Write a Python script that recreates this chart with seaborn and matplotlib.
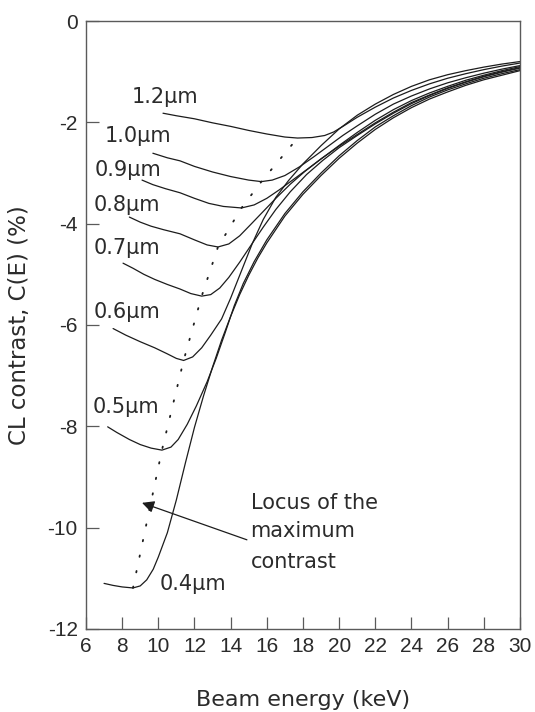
import matplotlib
matplotlib.use("Agg")
import matplotlib.pyplot as plt
import numpy as np
import pandas as pd
import seaborn as sns

# Beam energy (keV) / CL contrast (%) for each defect depth
E_04 = [7.0, 7.5, 8.0, 8.6, 9.0, 9.36, 9.72, 10.0, 10.5, 11.0, 11.5, 12.0, 12.5, 13.0, 13.5, 14.0, 14.5,
        15.0, 15.5, 16.0, 17.0, 18.0, 19.0, 20.0, 21.0, 22.0, 23.0, 24.0, 25.0, 26.0, 27.0, 28.0, 29.0, 30.0]
C_04 = [-11.10, -11.14, -11.17, -11.19, -11.15, -11.03, -10.82, -10.58, -10.10, -9.45, -8.72, -8.02, -7.40,
        -6.83, -6.30, -5.83, -5.40, -5.02, -4.68, -4.38, -3.85, -3.42, -3.05, -2.71, -2.41, -2.14, -1.91,
        -1.71, -1.54, -1.40, -1.27, -1.16, -1.07, -0.98]

E_05 = [7.2, 7.7, 8.4, 9.0, 9.6, 10.2, 10.7, 11.1, 11.6, 12.1, 12.7, 13.2, 13.7, 14.2, 14.7, 15.3, 16.0,
        17.0, 18.0, 19.0, 20.0, 21.0, 22.0, 23.0, 24.0, 25.0, 26.0, 27.0, 28.0, 29.0, 30.0]
C_05 = [-8.01, -8.12, -8.26, -8.36, -8.43, -8.47, -8.41, -8.26, -7.96, -7.60, -7.12, -6.66, -6.15, -5.62,
        -5.18, -4.75, -4.32, -3.80, -3.37, -3.00, -2.66, -2.36, -2.09, -1.87, -1.67, -1.50, -1.36, -1.24,
        -1.13, -1.04, -0.96]

E_06 = [7.5, 8.2, 9.0, 9.8, 10.5, 11.0, 11.4, 11.9, 12.4, 12.9, 13.5, 14.0, 14.6, 15.2, 15.8, 16.5, 17.2,
        18.0, 19.0, 20.0, 21.0, 22.0, 23.0, 24.0, 25.0, 26.0, 27.0, 28.0, 29.0, 30.0]
C_06 = [-6.07, -6.20, -6.33, -6.45, -6.57, -6.66, -6.70, -6.63, -6.45, -6.20, -5.88, -5.47, -4.93, -4.39,
        -3.92, -3.48, -3.15, -2.82, -2.46, -2.13, -1.86, -1.64, -1.45, -1.29, -1.16, -1.06, -0.98, -0.91,
        -0.85, -0.80]

E_07 = [8.05, 8.6, 9.2, 9.8, 10.5, 11.2, 11.8, 12.4, 12.9, 13.4, 13.9, 14.5, 15.1, 15.8, 16.5, 17.3, 18.2,
        19.1, 20.0, 21.0, 22.0, 23.0, 24.0, 25.0, 26.0, 27.0, 28.0, 29.0, 30.0]
C_07 = [-4.78, -4.88, -5.00, -5.10, -5.20, -5.29, -5.38, -5.43, -5.40, -5.27, -5.06, -4.76, -4.44, -4.07,
        -3.72, -3.37, -3.03, -2.75, -2.50, -2.26, -2.03, -1.82, -1.63, -1.47, -1.33, -1.21, -1.10, -1.01, -0.93]

E_08 = [8.4, 9.0, 9.6, 10.3, 11.2, 12.0, 12.7, 13.3, 13.9, 14.5, 15.1, 15.8, 16.5, 17.3, 18.1, 19.0, 20.0,
        21.0, 22.0, 23.0, 24.0, 25.0, 26.0, 27.0, 28.0, 29.0, 30.0]
C_08 = [-3.87, -3.97, -4.05, -4.12, -4.20, -4.32, -4.42, -4.46, -4.40, -4.24, -4.02, -3.76, -3.50, -3.22,
        -2.97, -2.72, -2.47, -2.24, -2.01, -1.80, -1.61, -1.46, -1.32, -1.20, -1.09, -1.00, -0.92]

E_09 = [9.1, 9.7, 10.4, 11.2, 12.0, 12.8, 13.6, 14.6, 15.3, 16.0, 16.7, 17.5, 18.3, 19.2, 20.1, 21.0, 22.0,
        23.0, 24.0, 25.0, 26.0, 27.0, 28.0, 29.0, 30.0]
C_09 = [-3.14, -3.23, -3.31, -3.39, -3.50, -3.60, -3.66, -3.69, -3.63, -3.50, -3.33, -3.12, -2.91, -2.67,
        -2.43, -2.20, -1.96, -1.75, -1.57, -1.42, -1.29, -1.17, -1.07, -0.98, -0.90]

E_10 = [9.7, 10.5, 11.2, 12.0, 13.0, 14.0, 15.0, 15.7, 16.3, 17.0, 17.8, 18.6, 19.4, 20.2, 21.0, 22.0, 23.0,
        24.0, 25.0, 26.0, 27.0, 28.0, 29.0, 30.0]
C_10 = [-2.61, -2.70, -2.76, -2.87, -2.98, -3.07, -3.14, -3.17, -3.14, -3.05, -2.88, -2.68, -2.47, -2.26,
        -2.07, -1.84, -1.64, -1.48, -1.34, -1.22, -1.12, -1.03, -0.95, -0.88]

E_12 = [10.26, 11.0, 12.0, 13.0, 14.0, 15.0, 16.0, 17.0, 17.7, 18.5, 19.2, 19.7, 20.3, 21.0, 22.0, 23.0,
        24.0, 25.0, 26.0, 27.0, 28.0, 29.0, 30.0]
C_12 = [-1.82, -1.87, -1.93, -2.01, -2.08, -2.16, -2.23, -2.29, -2.31, -2.30, -2.26, -2.19, -2.06, -1.90,
        -1.70, -1.52, -1.37, -1.24, -1.13, -1.04, -0.96, -0.89, -0.83]

DEPTH_LABELS = ["0.4\u00b5m", "0.5\u00b5m", "0.6\u00b5m", "0.7\u00b5m", "0.8\u00b5m", "0.9\u00b5m", "1.0\u00b5m", "1.2\u00b5m"]

# Locus of the maximum contrast (minimum of each curve)
LOCUS_E = [8.6, 10.2, 11.4, 12.4, 13.3, 14.6, 15.7, 17.7]
LOCUS_C = [-11.19, -8.47, -6.70, -5.43, -4.46, -3.69, -3.17, -2.31]

X_TICKS = list(range(6, 31, 2))
Y_TICKS = list(range(-12, 1, 2))

curves = [(E_04, C_04), (E_05, C_05), (E_06, C_06), (E_07, C_07),
          (E_08, C_08), (E_09, C_09), (E_10, C_10), (E_12, C_12)]

frames = []
for label, (e, c) in zip(DEPTH_LABELS, curves):
    frames.append(pd.DataFrame({"energy": e, "contrast": c, "depth": label}))
df = pd.concat(frames, ignore_index=True)
locus = pd.DataFrame({"energy": LOCUS_E, "contrast": LOCUS_C})

sns.set_theme(style="ticks")
plt.rcParams["font.family"] = ["Liberation Sans", "DejaVu Sans"]
plt.rcParams["axes.unicode_minus"] = False

TEXT = "#2b2b2b"
LINE = "#1c1c1c"
SPINE = "#5a5a5a"
FS = 15
WIDE = ["DejaVu Sans"]

fig = plt.figure(figsize=(5.35, 7.12), dpi=100)
ax = fig.add_axes([0.1607, 0.1166, 0.8112, 0.8539])

for label in DEPTH_LABELS:
    sub = df[df["depth"] == label]
    sns.lineplot(data=sub, x="energy", y="contrast", ax=ax, color=LINE,
                 linewidth=0.9, sort=False, estimator=None)

sns.lineplot(data=locus, x="energy", y="contrast", ax=ax, color=LINE,
             linewidth=1.3, linestyle=(0, (0.8, 8)), sort=False, estimator=None,
             dash_capstyle="round")

ax.set_xlim(6, 30)
ax.set_ylim(-12, 0)
ax.set_xticks(X_TICKS)
ax.set_yticks(Y_TICKS)
ax.set_xticklabels([str(t) for t in X_TICKS])
ax.set_yticklabels([str(t) for t in Y_TICKS])
ax.tick_params(direction="in", length=9, width=0.9, color=SPINE,
               labelsize=FS, labelcolor=TEXT, pad=6)
for s in ax.spines.values():
    s.set_color(SPINE)
    s.set_linewidth(1.0)

ax.set_xlabel("Beam energy (keV)", fontsize=16, color=TEXT, labelpad=24, family=WIDE)
ax.set_ylabel("CL contrast, C(E) (%)", fontsize=16.5, color=TEXT, labelpad=12, family=WIDE)

# Depth labels at the start of each curve
label_pos = {
    "1.2\u00b5m": (10.37, -1.50),
    "1.0\u00b5m": (8.88, -2.27),
    "0.9\u00b5m": (8.32, -2.94),
    "0.8\u00b5m": (8.27, -3.63),
    "0.7\u00b5m": (8.27, -4.48),
    "0.6\u00b5m": (8.27, -5.74),
    "0.5\u00b5m": (8.21, -7.62),
    "0.4\u00b5m": (11.9, -11.11),
}
for lab, (x, y) in label_pos.items():
    ax.text(x, y, lab, fontsize=15, color=TEXT, ha="center", va="center", family=WIDE)

ax.annotate("", xy=(9.1, -9.51), xytext=(14.9, -10.24),
            arrowprops=dict(arrowstyle="-|>", color=LINE, lw=0.9,
                            mutation_scale=18, shrinkA=0, shrinkB=0))
for txt, y in [("Locus of the", -9.51), ("maximum", -10.07), ("contrast", -10.68)]:
    ax.text(15.1, y, txt, fontsize=15, color=TEXT, ha="left", va="center", family=WIDE)

fig.savefig("out.png", dpi=100)
